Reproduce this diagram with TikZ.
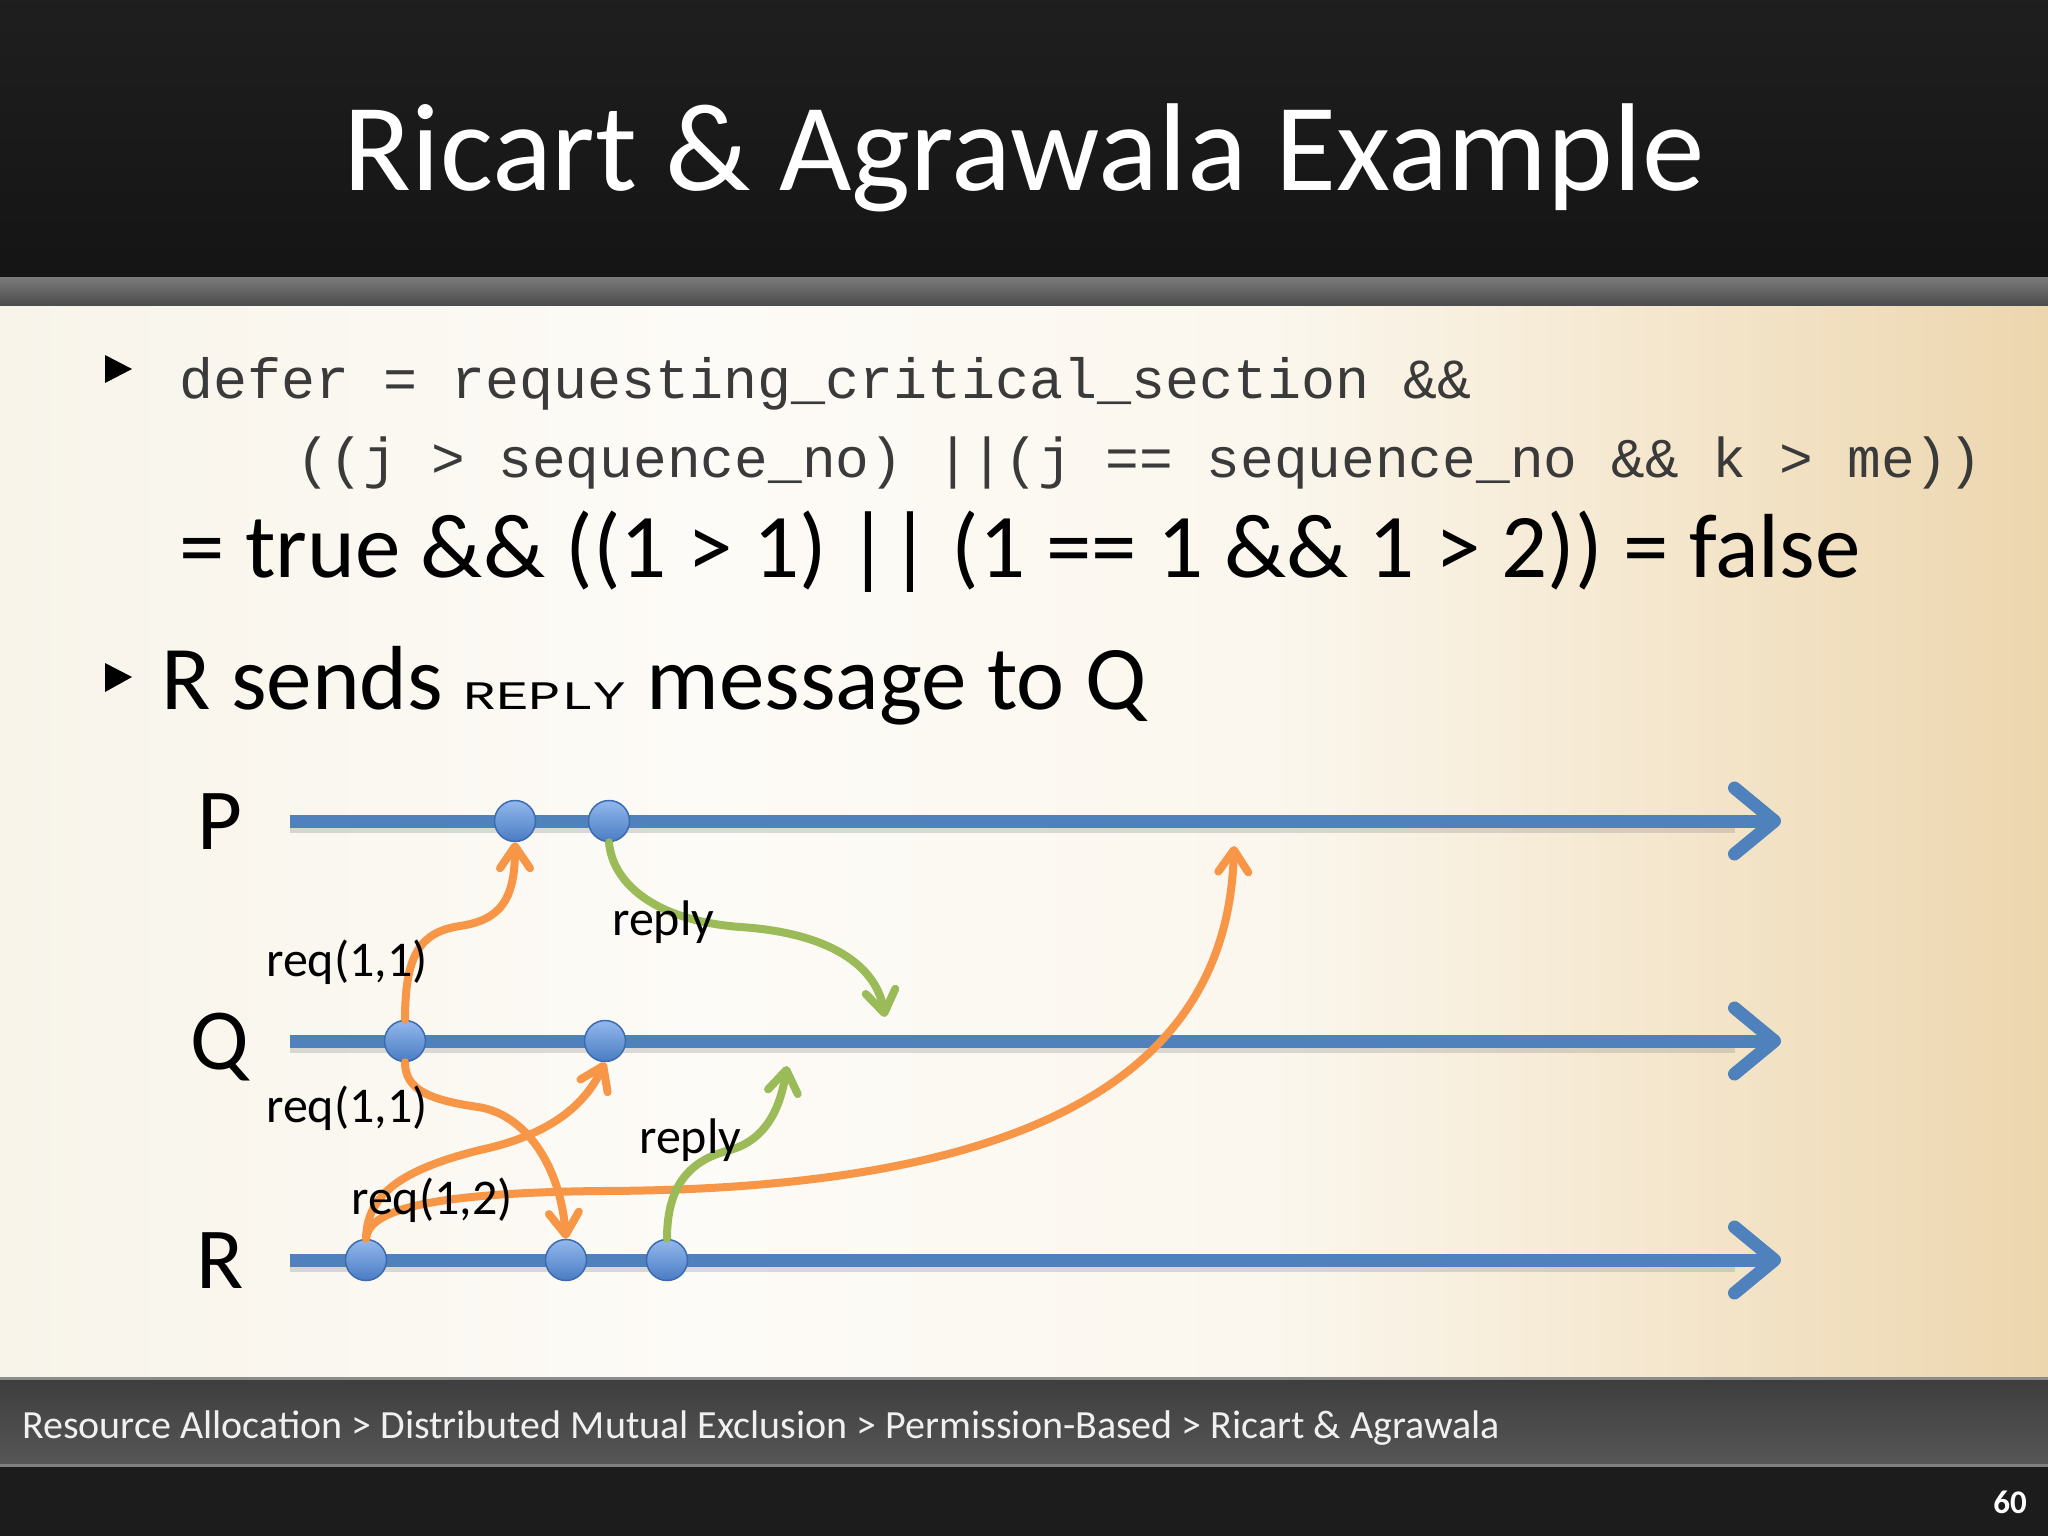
\documentclass[tikz,border=0pt]{standalone}
\usepackage{fontspec}
\setmainfont{Carlito}
\newfontfamily\codefont{Liberation Mono}
\usetikzlibrary{arrows.meta}
\definecolor{lineblue}{HTML}{4F81BD}
\definecolor{dotlight}{HTML}{93B8EC}
\definecolor{dotdark}{HTML}{4A7CC4}
\definecolor{dotedge}{HTML}{3B6BB0}
\definecolor{msgorange}{HTML}{F79646}
\definecolor{msggreen}{HTML}{9BBB59}
\definecolor{codegray}{HTML}{3A3A3A}
\definecolor{bodyA}{HTML}{F8F4EA}
\definecolor{bodyB}{HTML}{FDFBF7}
\definecolor{bodyC}{HTML}{FBF7EE}
\definecolor{bodyD}{HTML}{F4E6CC}
\definecolor{bodyE}{HTML}{ECD6AE}
\pgfdeclarehorizontalshading{bodyshade}{100bp}{color(0bp)=(bodyA); color(25bp)=(bodyA); color(42bp)=(bodyB); color(56bp)=(bodyC); color(66bp)=(bodyD); color(75bp)=(bodyE); color(100bp)=(bodyE)}
\tikzset{
  dot/.style={circle, minimum size=41pt, inner sep=0pt, draw=dotedge, line width=1.5pt, top color=dotlight, bottom color=dotdark},
  timeline/.style={lineblue, line width=13pt, -{Straight Barb[length=40pt,width=66pt,line cap=round,line join=round]}},
  tlshadow/.style={black!45, opacity=0.3, line width=13pt},
  msg/.style={line width=8pt, line cap=round, -{Straight Barb[length=22pt,width=30pt,line cap=round,line join=round]}},
  lbl/.style={font=\fontsize{50}{55}\selectfont, anchor=base west, inner sep=0pt},
  proc/.style={font=\fontsize{87}{90}\selectfont, anchor=base, inner sep=0pt},
  txt/.style={anchor=base west, inner sep=0pt},
}
\begin{document}
\begin{tikzpicture}[x=1pt,y=-1pt]
\useasboundingbox (0,0) rectangle (2048,1536);
% backgrounds
\shade[shading=bodyshade] (0,300) rectangle (2048,1380);
\shade[top color=black!88, bottom color=black!92] (0,0) rectangle (2048,278);
\shade[top color=black!52, bottom color=black!70] (0,277) rectangle (2048,305);
\shade[top color=black!76, bottom color=black!66] (0,1377) rectangle (2048,1467);
\fill[black!45] (0,1377) rectangle (2048,1380);
\fill[black!50] (0,1464) rectangle (2048,1467);
\fill[black!89] (0,1467) rectangle (2048,1536);
% title and footer
\node[anchor=base, inner sep=0pt, text=white, font=\fontsize{125}{130}\selectfont] (title) at (1024,190) {Ricart \& Agrawala Example};
\node[txt, text=white!94!black, font=\fontsize{40}{44}\selectfont] (footer) at (22,1438) {Resource Allocation > Distributed Mutual Exclusion > Permission-Based > Ricart \& Agrawala};
\node[anchor=base east, inner sep=0pt, text=white, font=\bfseries\fontsize{33}{36}\selectfont] (pageno) at (2027,1513) {60};
% bullets
\fill[black] (105,355) -- (132,369) -- (105,383) -- cycle;
\fill[black] (105,663) -- (132,677) -- (105,692) -- cycle;
\node[txt, text=codegray, font=\codefont\fontsize{56.7}{60}\selectfont] (l1) at (179,398) {defer = requesting\_critical\_section \&\&};
\node[txt, text=codegray, font=\codefont\fontsize{56.2}{60}\selectfont] (l2) at (296,477) {((j > sequence\_no) ||(j == sequence\_no \&\& k > me))};
\node[txt, font=\fontsize{91}{95}\selectfont] (l3) at (179,577) {= true \&\& ((1 > 1) || (1 == 1 \&\& 1 > 2)) = false};
\node[txt, font=\fontsize{91}{95}\selectfont] (b2) at (161,709) {R sends \scalebox{1}[0.75]{\codefont\fontsize{54}{60}\selectfont REPLY} message to Q};
% timelines
\coordinate (Ps) at (290,821); \coordinate (Pe) at (1781,821);
\coordinate (Qs) at (290,1041); \coordinate (Qe) at (1781,1041);
\coordinate (Rs) at (290,1260); \coordinate (Re) at (1781,1260);
\draw[tlshadow] (290,826) -- (1735,826);
\draw[tlshadow] (290,1046) -- (1735,1046);
\draw[tlshadow] (290,1265) -- (1735,1265);
\draw[timeline] (Ps) -- (Pe);
\draw[timeline] (Qs) -- (Qe);
\draw[timeline] (Rs) -- (Re);
% events
\node[dot] (P1) at (515,821) {};
\node[dot] (P2) at (609,821) {};
\node[dot] (Q1) at (405,1041) {};
\node[dot] (Q2) at (605,1041) {};
\node[dot] (R1) at (366,1260) {};
\node[dot] (R2) at (566,1260) {};
\node[dot] (R3) at (667,1260) {};
\coordinate (PX) at (1234,846);
\coordinate (QX1) at (885,1017);
\coordinate (QX2) at (787,1066);
% messages
\draw[msg, msgorange] (Q1.north) .. controls (405,955) and (420,932) .. (460,926) .. controls (500,920) and (515,900) .. (P1.south);
\draw[msg, msgorange] (Q1.south) .. controls (405,1090) and (430,1100) .. (478,1107) .. controls (525,1114) and (560,1165) .. (R2.north);
\draw[msg, msgorange] (R1.north) .. controls (367,1195) and (400,1170) .. (480,1150) .. controls (550,1135) and (585,1105) .. (Q2.south);
\draw[msg, msgorange] (R1.north) .. controls (368,1212) and (420,1193) .. (600,1191) .. controls (1040,1190) and (1228,1070) .. (PX);
\draw[msg, msggreen] (P2.south) .. controls (612,880) and (650,920) .. (740,927) .. controls (820,932) and (875,960) .. (QX1);
\draw[msg, msggreen] (R3.north) .. controls (667,1185) and (690,1160) .. (730,1150) .. controls (765,1140) and (780,1110) .. (QX2);
% labels
\node[proc] (lP) at (220,849) {P};
\node[proc] (lQ) at (220,1069) {Q};
\node[proc] (lR) at (220,1288) {R};
\node[lbl] (m1) at (266,976) {req(1,1)};
\node[lbl] (m2) at (266,1122) {req(1,1)};
\node[lbl] (m3) at (351,1214) {req(1,2)};
\node[lbl] (m4) at (612,935) {reply};
\node[lbl] (m5) at (639,1153) {reply};
\end{tikzpicture}
\end{document}
